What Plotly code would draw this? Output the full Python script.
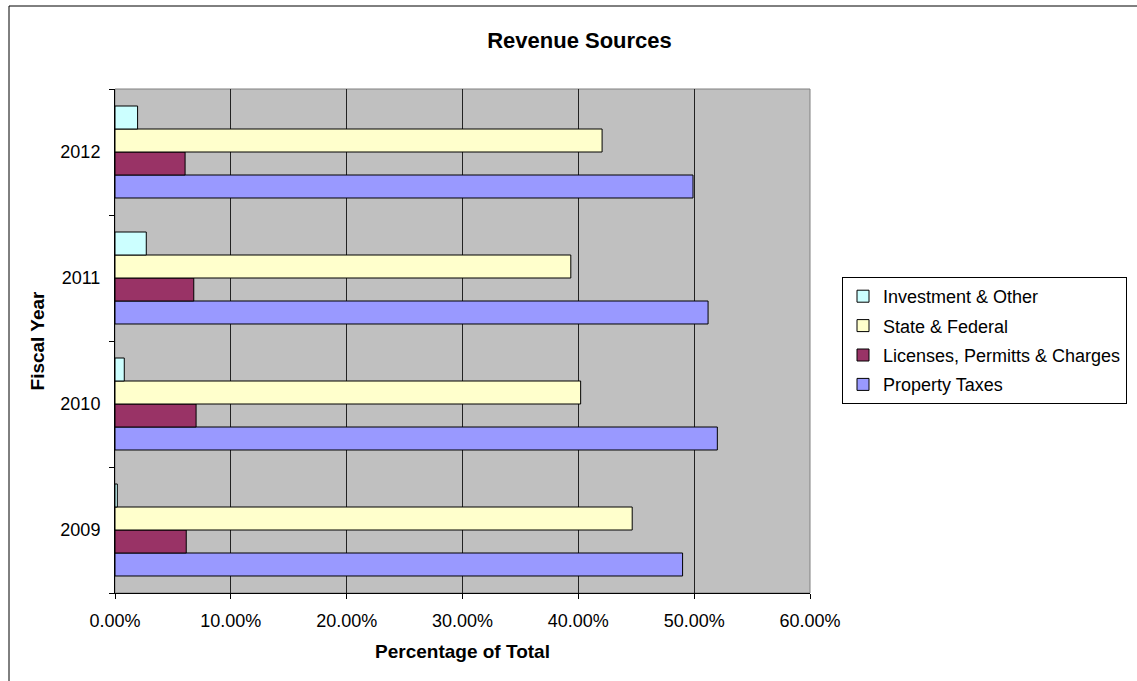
import plotly.graph_objects as go

years = ["2009", "2010", "2011", "2012"]
property_taxes = [49.0, 52.0, 51.2, 49.9]
licenses = [6.15, 7.0, 6.8, 6.05]
state_federal = [44.65, 40.2, 39.35, 42.05]
investment = [0.2, 0.8, 2.7, 1.95]

series_names = ["Property Taxes", "Licenses, Permitts & Charges", "State & Federal", "Investment & Other"]
series_values = [property_taxes, licenses, state_federal, investment]
series_colors = ["#9999FF", "#993366", "#FFFFCC", "#CCFFFF"]
legend_ranks = [4, 3, 2, 1]

x_ticks = [0, 10, 20, 30, 40, 50, 60]
x_tick_labels = ["0.00%", "10.00%", "20.00%", "30.00%", "40.00%", "50.00%", "60.00%"]

W, H = 1137, 681
L, R, T, B = 115, 810, 89, 593
FONT = "Arial, Liberation Sans, sans-serif"

def px_x(p):
    return (p - L) / (R - L)

def px_y(p):
    return (B - p) / (B - T)

fig = go.Figure()
for name, vals, col, rk in zip(series_names, series_values, series_colors, legend_ranks):
    fig.add_trace(go.Bar(
        y=years, x=vals, name=name, orientation="h",
        marker=dict(color=col, line=dict(color="black", width=1)),
        legendgroup=name, legendrank=rk,
    ))

fig.update_layout(
    width=W, height=H,
    margin=dict(l=L, r=W - R, t=T, b=H - B, autoexpand=False),
    paper_bgcolor="white",
    plot_bgcolor="#C0C0C0",
    barmode="group", bargap=0.27, bargroupgap=0,
    font=dict(family=FONT, size=18, color="black"),
    title=dict(text="<b>Revenue Sources</b>", x=579.5 / W, xref="container", xanchor="center",
               y=1 - 40 / H, yref="container", yanchor="middle",
               font=dict(family=FONT, size=22, color="black")),
    xaxis=dict(range=[0, 60], tickvals=x_ticks, ticktext=x_tick_labels,
               showgrid=True, gridcolor="#222222", gridwidth=1,
               showline=True, linecolor="black", linewidth=1,
               ticks="outside", ticklen=5, tickcolor="black",
               ticklabelstandoff=6, zeroline=False,
               title=dict(text="<b>Percentage of Total</b>", standoff=15,
                          font=dict(family=FONT, size=19, color="black"))),
    yaxis=dict(type="category", categoryorder="array", categoryarray=years,
               showgrid=False, showline=True, linecolor="black", linewidth=1,
               ticks="outside", ticklen=5, tickcolor="black", tickson="boundaries",
               ticklabelstandoff=10,
               title=dict(text="<b>Fiscal Year</b>", standoff=10,
                          font=dict(family=FONT, size=19, color="black"))),
    legend=dict(x=px_x(842), xanchor="left", y=px_y(277), yanchor="top",
                traceorder="grouped", tracegroupgap=3,
                bgcolor="white", bordercolor="black", borderwidth=1,
                font=dict(family=FONT, size=18, color="black")),
    shapes=[
        dict(type="rect", xref="paper", yref="paper",
             x0=px_x(9), x1=px_x(1160), y0=px_y(700), y1=px_y(6),
             line=dict(color="black", width=1), fillcolor="rgba(0,0,0,0)", layer="below"),
        dict(type="rect", xref="paper", yref="paper", x0=0, x1=1, y0=0, y1=1,
             line=dict(color="#808080", width=1), fillcolor="rgba(0,0,0,0)", layer="below"),
    ],
)

fig.write_html("out.html")
